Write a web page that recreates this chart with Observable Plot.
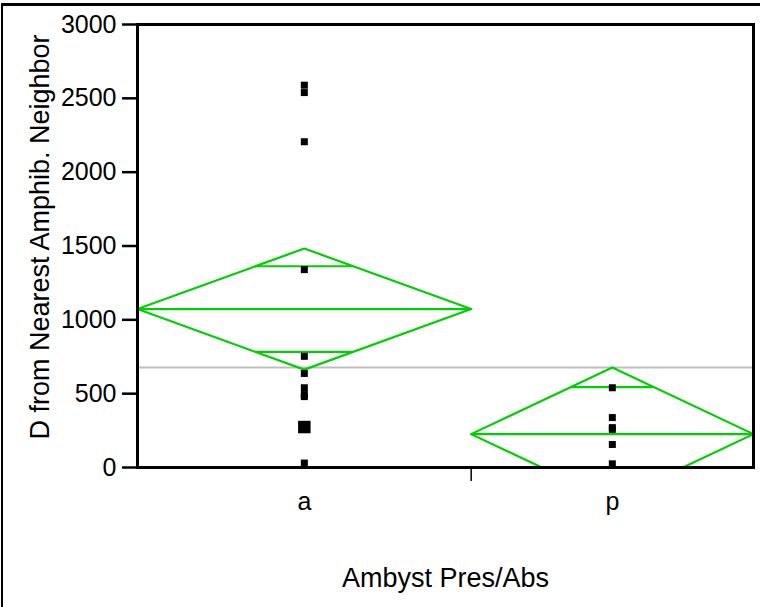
<!DOCTYPE html>
<html>
<head>
<meta charset="utf-8">
<script src="https://cdn.jsdelivr.net/npm/d3@7"></script>
<script src="https://cdn.jsdelivr.net/npm/@observablehq/plot@0.6"></script>
<style>
  html, body { margin: 0; padding: 0; background: #fff; }
  #wrap { position: relative; width: 760px; height: 607px; overflow: hidden; }
  #border { position: absolute; left: 1px; top: 3px; width: 800px; height: 700px;
            border-left: 2px solid #000; border-top: 3px solid #000; pointer-events: none; }
  #chart { position: absolute; left: 0; top: 0; }
</style>
</head>
<body>
<div id="wrap"><div id="chart"></div><div id="border"></div></div>
<script>
// ---- data ----
const groups = ["a", "p"];
const groupN = [13, 11];            // group sizes (set the proportional widths)
const groupMean = [1073, 226];
const groupCI = [410, 451];         // 95% CI half-width of the mean
const grandMean = 678;
const pointsA = [2589, 2539, 2206, 1340, 753, 637, 540, 494, 480, 274, 30];
const countsA = [1, 1, 1, 1, 1, 1, 1, 1, 1, 4, 1];
const pointsP = [540, 338, 270, 258, 156, 25];
const countsP = [1, 1, 1, 1, 1, 1];
const yTicks = [0, 500, 1000, 1500, 2000, 2500, 3000];
const xTitle = "Ambyst Pres/Abs";
const yTitle = "D from Nearest Amphib. Neighbor";

// ---- derived tables ----
let start = 0;
const G = groups.map((name, i) => {
  const x0 = start; start += groupN[i];
  return {name, x0, x1: start, xc: (x0 + start) / 2, mean: groupMean[i], ci: groupCI[i], n: groupN[i]};
});
const total = start;
const diamond = G.flatMap(g => [
  {name: g.name, x: g.x0, y: g.mean},
  {name: g.name, x: g.xc, y: g.mean + g.ci},
  {name: g.name, x: g.x1, y: g.mean},
  {name: g.name, x: g.xc, y: g.mean - g.ci},
  {name: g.name, x: g.x0, y: g.mean}
]);
const overlap = G.flatMap(g => {
  const d = g.ci / Math.SQRT2, hw = (g.n / 2) * (1 - 1 / Math.SQRT2);
  return [{y: g.mean + d, x1: g.xc - hw, x2: g.xc + hw}, {y: g.mean - d, x1: g.xc - hw, x2: g.xc + hw}];
});
const pts = [
  ...pointsA.map((v, i) => ({x: G[0].xc, y: v, c: countsA[i]})),
  ...pointsP.map((v, i) => ({x: G[1].xc, y: v, c: countsP[i]}))
];
const boundaries = G.slice(0, -1).map(g => g.x1);

const green = "#00d000";
const chart = Plot.plot({
  width: 760, height: 607,
  marginLeft: 137, marginRight: 7, marginTop: 24, marginBottom: 140,
  style: {fontFamily: "'Liberation Sans', Arial, sans-serif", fontSize: "25px", color: "#000", background: "transparent", overflow: "visible"},
  x: {domain: [0, total], axis: null},
  y: {domain: [0, 3000], axis: null},
  r: {type: "linear", domain: [1, 4], range: [3.95, 7.05]},
  marks: [
    Plot.ruleY([grandMean], {stroke: "#bdbdbd", strokeWidth: 2}),
    Plot.line(diamond, {x: "x", y: "y", z: "name", stroke: green, strokeWidth: 2.2, clip: true}),
    Plot.ruleY(G, {y: "mean", x1: "x0", x2: "x1", stroke: green, strokeWidth: 2.2, clip: true}),
    Plot.ruleY(overlap, {y: "y", x1: "x1", x2: "x2", stroke: green, strokeWidth: 2.2, clip: true}),
    Plot.dot(pts, {x: "x", y: "y", r: "c", symbol: "square", fill: "#000", stroke: null}),
    Plot.axisY(yTicks, {tickSize: 15, tickPadding: 6, strokeWidth: 2.5, fontSize: 25, tickFormat: d => String(d), label: null}),
    Plot.axisX(boundaries, {tickSize: 14, tickFormat: () => "", strokeWidth: 1.5, label: null}),
    Plot.text(G, {x: "xc", text: "name", frameAnchor: "bottom", dy: 25, lineAnchor: "top", fontSize: 25}),
    Plot.text([xTitle], {frameAnchor: "bottom", dy: 111, lineAnchor: "middle", textAnchor: "middle", fontSize: 27}),
    Plot.text([yTitle], {frameAnchor: "left", dx: -97, dy: -9, rotate: -90, lineAnchor: "middle", textAnchor: "middle", fontSize: 27}),
    Plot.frame({stroke: "#000", strokeWidth: 3})
  ]
});
document.getElementById("chart").appendChild(chart);
</script>
</body>
</html>
